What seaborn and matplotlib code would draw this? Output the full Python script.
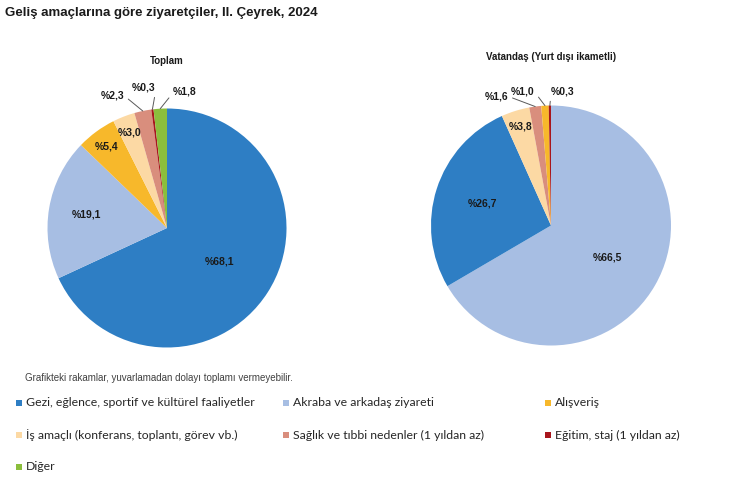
import numpy as np
import matplotlib
matplotlib.use("Agg")
import matplotlib.pyplot as plt
from matplotlib.patches import Rectangle
import seaborn as sns

# Data
categories = ["Gezi, eğlence, sportif ve kültürel faaliyetler",
              "Akraba ve arkadaş ziyareti",
              "Alışveriş",
              "İş amaçlı (konferans, toplantı, görev vb.)",
              "Sağlık ve tıbbi nedenler (1 yıldan az)",
              "Eğitim, staj (1 yıldan az)",
              "Diğer"]
colors = ["#2E7EC4", "#A7BEE3", "#F7B82B", "#FCD9A4", "#D98E7D", "#A8161C", "#8BBE3C"]

toplam_cats = ["Gezi, eğlence, sportif ve kültürel faaliyetler", "Akraba ve arkadaş ziyareti",
               "Alışveriş", "İş amaçlı (konferans, toplantı, görev vb.)",
               "Sağlık ve tıbbi nedenler (1 yıldan az)", "Eğitim, staj (1 yıldan az)", "Diğer"]
toplam_vals = [68.1, 19.1, 5.4, 3.0, 2.3, 0.3, 1.8]

vatandas_cats = ["Akraba ve arkadaş ziyareti", "Gezi, eğlence, sportif ve kültürel faaliyetler",
                 "İş amaçlı (konferans, toplantı, görev vb.)", "Sağlık ve tıbbi nedenler (1 yıldan az)",
                 "Alışveriş", "Eğitim, staj (1 yıldan az)"]
vatandas_vals = [66.5, 26.7, 3.8, 1.6, 1.0, 0.3]

# label placement: (radius, angle or None=mid, leader relpos or None)
toplam_lbl = [(0.52, None, None), (0.68, None, None), (0.85, None, None), (0.86, None, None),
              (1.20, 112.5, (1, 0.5)), (1.19, 99.5, (1, 0)), (1.15, 82.5, (0, 0.4))]
vatandas_lbl = [(0.54, None, None), (0.60, None, None), (0.86, None, None),
                (1.17, 113.0, (1, 0.5)), (1.14, 102.0, (1, 0.5)), (1.12, 85.0, (0, 0.2))]

sns.set_theme(style="white")
plt.rcParams["font.family"] = ["Liberation Sans", "DejaVu Sans"]

W, H = 733, 484
fig = plt.figure(figsize=(W / 100, H / 100), dpi=100)
cmap = dict(zip(categories, colors))


def draw_pie(cx, cy, r, cats, vals, lbls, title):
    ax = fig.add_axes([(cx - r) / W, (H - cy - r) / H, 2 * r / W, 2 * r / H])
    wedges, _ = ax.pie(vals, colors=[cmap[c] for c in cats], startangle=90,
                       counterclock=False, wedgeprops=dict(linewidth=0))
    ax.set_xlim(-1, 1)
    ax.set_ylim(-1, 1)
    for w, v, (rad, ang, rel) in zip(wedges, vals, lbls):
        mid = np.deg2rad((w.theta1 + w.theta2) / 2)
        txt = "%" + f"{v:.1f}".replace(".", ",")
        if rel is None:
            ax.text(rad * np.cos(mid), rad * np.sin(mid), txt, ha="center", va="center",
                    fontsize=7.5, fontweight="bold", color="#1a1a1a")
        else:
            a = np.deg2rad(ang)
            ax.annotate(txt, xy=(np.cos(mid), np.sin(mid)), xytext=(rad * np.cos(a), rad * np.sin(a)),
                        ha="center", va="center", fontsize=7.5, fontweight="bold",
                        color="#1a1a1a", annotation_clip=False,
                        arrowprops=dict(arrowstyle="-", color="#595959", lw=0.7,
                                        shrinkA=1, shrinkB=0, relpos=rel))
    fig.text(cx / W, 1 - (cy - r - 48) / H, title, ha="center",
             va="center", fontsize=7, fontweight="bold", color="#1a1a1a")
    return ax


draw_pie(167, 228, 119.5, toplam_cats, toplam_vals, toplam_lbl, "Toplam")
draw_pie(551, 225.5, 120, vatandas_cats, vatandas_vals, vatandas_lbl, "Vatandaş (Yurt dışı ikametli)")

fig.text(5 / W, 1 - 13 / H, "Geliş amaçlarına göre ziyaretçiler, II. Çeyrek, 2024",
         ha="left", va="center", fontsize=9.5, fontweight="bold", color="#1a1a1a")

fig.text(25 / W, 1 - 378 / H, "Grafikteki rakamlar, yuvarlamadan dolayı toplamı vermeyebilir.",
         ha="left", va="center", fontsize=7, color="#404040",
         family=["Liberation Sans Narrow", "Liberation Sans"])

# legend, 3 columns
col_x = [16, 283, 545]
row_y = [403, 435, 467]
for i, (cat, col) in enumerate(zip(categories, colors)):
    x = col_x[i % 3]
    y = row_y[i // 3]
    fig.patches.append(Rectangle((x / W, 1 - (y + 3) / H), 6 / W, 6 / H, transform=fig.transFigure,
                                 facecolor=col, edgecolor="none"))
    fig.text((x + 10) / W, 1 - y / H, cat, ha="left", va="center", fontsize=8.8,
             color="#262626", family=["Lato", "DejaVu Sans"])

fig.savefig("out.png", dpi=100)
